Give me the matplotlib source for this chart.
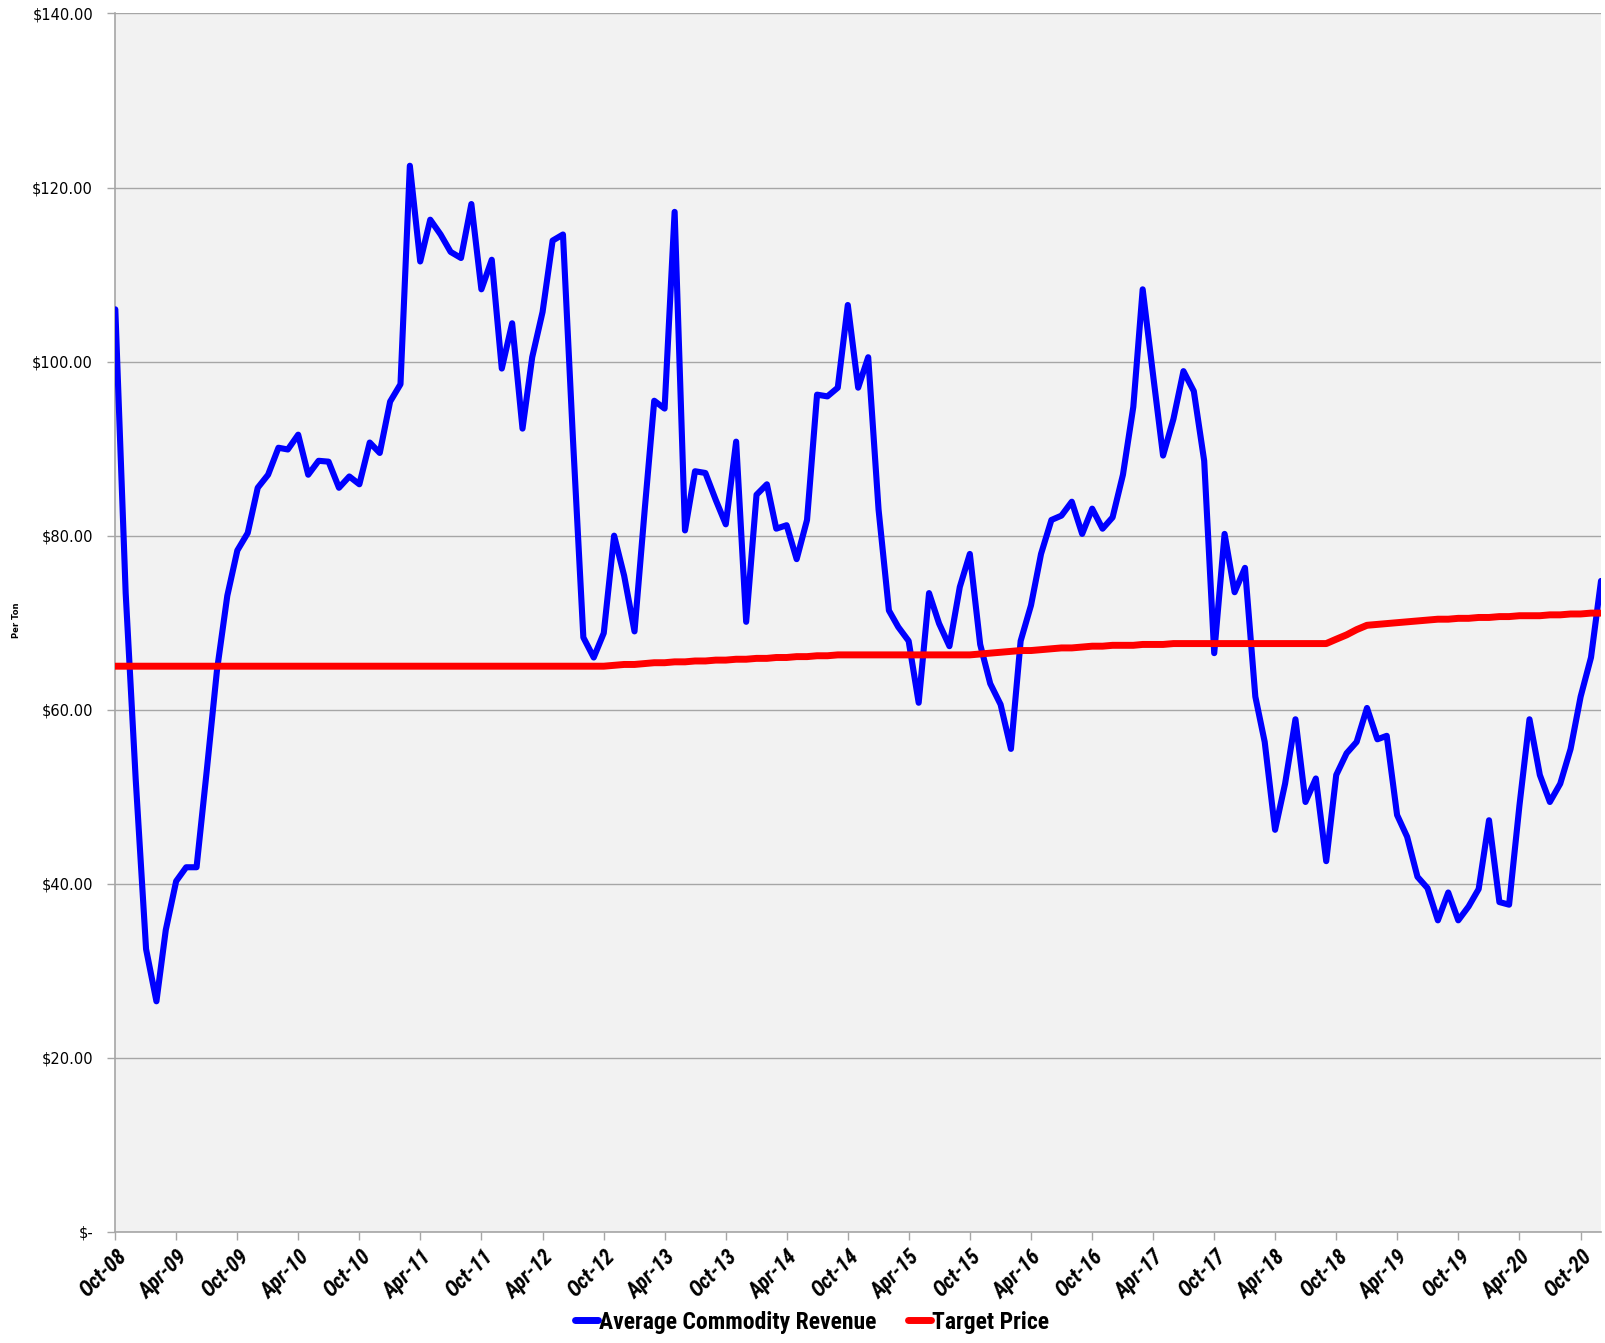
import pandas as pd
import matplotlib.pyplot as plt
import matplotlib.dates as mdates
from matplotlib.ticker import FixedLocator

revenue = [
    106.0, 73.4, 52.0, 32.5, 26.5, 34.7, 40.3, 41.9, 41.9, 52.8,
    64.5, 73.1, 78.3, 80.3, 85.5, 87.0, 90.1, 89.9, 91.6, 87.0,
    88.6, 88.5, 85.5, 86.8, 85.9, 90.7, 89.5, 95.4, 97.4, 122.5,
    111.5, 116.3, 114.6, 112.6, 111.9, 118.1, 108.3, 111.7, 99.2, 104.4,
    92.3, 100.5, 105.7, 113.9, 114.6, 91.0, 68.3, 66.0, 68.8, 80.0,
    75.4, 69.0, 83.2, 95.5, 94.6, 117.2, 80.6, 87.4, 87.2, 84.1,
    81.3, 90.8, 70.1, 84.7, 85.9, 80.8, 81.2, 77.3, 81.8, 96.2,
    96.0, 97.0, 106.5, 97.0, 100.5, 83.0, 71.4, 69.5, 67.9, 60.8,
    73.4, 69.9, 67.3, 74.1, 77.9, 67.5, 63.0, 60.6, 55.5, 67.9,
    72.0, 77.9, 81.8, 82.3, 83.9, 80.2, 83.1, 80.8, 82.1, 87.0,
    94.8, 108.3, 98.5, 89.2, 93.4, 98.9, 96.6, 88.6, 66.5, 80.2,
    73.5, 76.3, 61.5, 56.3, 46.2, 51.5, 58.9, 49.4, 52.1, 42.6,
    52.5, 55.0, 56.3, 60.2, 56.6, 57.0, 47.9, 45.4, 40.8, 39.5,
    35.8, 39.0, 35.8, 37.4, 39.4, 47.3, 37.9, 37.6, 49.0, 58.9,
    52.5, 49.4, 51.5, 55.5, 61.5, 66.0, 74.8,
]

target = [
    65.0, 65.0, 65.0, 65.0, 65.0, 65.0, 65.0, 65.0, 65.0, 65.0,
    65.0, 65.0, 65.0, 65.0, 65.0, 65.0, 65.0, 65.0, 65.0, 65.0,
    65.0, 65.0, 65.0, 65.0, 65.0, 65.0, 65.0, 65.0, 65.0, 65.0,
    65.0, 65.0, 65.0, 65.0, 65.0, 65.0, 65.0, 65.0, 65.0, 65.0,
    65.0, 65.0, 65.0, 65.0, 65.0, 65.0, 65.0, 65.0, 65.0, 65.1,
    65.2, 65.2, 65.3, 65.4, 65.4, 65.5, 65.5, 65.6, 65.6, 65.7,
    65.7, 65.8, 65.8, 65.9, 65.9, 66.0, 66.0, 66.1, 66.1, 66.2,
    66.2, 66.3, 66.3, 66.3, 66.3, 66.3, 66.3, 66.3, 66.3, 66.3,
    66.3, 66.3, 66.3, 66.3, 66.3, 66.4, 66.5, 66.6, 66.7, 66.8,
    66.8, 66.9, 67.0, 67.1, 67.1, 67.2, 67.3, 67.3, 67.4, 67.4,
    67.4, 67.5, 67.5, 67.5, 67.6, 67.6, 67.6, 67.6, 67.6, 67.6,
    67.6, 67.6, 67.6, 67.6, 67.6, 67.6, 67.6, 67.6, 67.6, 67.6,
    68.1, 68.6, 69.2, 69.7, 69.8, 69.9, 70.0, 70.1, 70.2, 70.3,
    70.4, 70.4, 70.5, 70.5, 70.6, 70.6, 70.7, 70.7, 70.8, 70.8,
    70.8, 70.9, 70.9, 71.0, 71.0, 71.1, 71.1,
]

months = pd.date_range('2008-10-01', periods=len(revenue), freq='MS')

y_ticks = [0, 20, 40, 60, 80, 100, 120, 140]
y_labels = ['$-', '$20.00', '$40.00', '$60.00', '$80.00', '$100.00', '$120.00', '$140.00']

narrow = ['Roboto Condensed', 'Liberation Sans', 'DejaVu Sans']

fig = plt.figure(figsize=(16.06, 13.43), dpi=100)
ax = fig.add_axes([0.0718, 0.0827, 0.9251, 0.9073])
ax.set_facecolor('#f2f2f2')

ax.plot(months, revenue, color='#0000ff', linewidth=4.4, solid_joinstyle='round',
        solid_capstyle='round', label='Average Commodity Revenue', zorder=3)
ax.plot(months, target, color='#ff0000', linewidth=5, solid_joinstyle='round',
        label='Target Price', zorder=3)

ax.set_xlim(months[0], months[-1])
ax.set_ylim(0, 140)
ax.set_yticks(y_ticks)
ax.set_yticklabels(y_labels, fontsize=10.5, family='DejaVu Sans')
ax.grid(axis='y', color='#a6a6a6', linewidth=1)
ax.set_axisbelow(True)

tick_dates = [d for d in months if d.month in (4, 10)]
ax.xaxis.set_major_locator(FixedLocator(mdates.date2num(tick_dates)))
ax.xaxis.set_major_formatter(mdates.DateFormatter('%b-%y'))
for lab in ax.get_xticklabels():
    lab.set_rotation(45)
    lab.set_ha('right')
    lab.set_rotation_mode('anchor')
    lab.set_fontsize(15.5)
    lab.set_fontweight('bold')
    lab.set_fontstyle('italic')
    lab.set_family(narrow)

ax.tick_params(axis='both', direction='out', length=6, color='#a6a6a6', width=1)
ax.tick_params(axis='x', pad=4)
ax.tick_params(axis='y', pad=10)
for s in ['top', 'right']:
    ax.spines[s].set_visible(False)
for s in ['left', 'bottom']:
    ax.spines[s].set_color('#a6a6a6')
    ax.spines[s].set_linewidth(1.2)

fig.text(0.010, 0.538, 'Per Ton', rotation=90, fontsize=6, fontweight='bold',
         ha='center', va='center')

leg = fig.legend(loc='center', bbox_to_anchor=(0.5056, 0.0155), ncol=2, frameon=False,
                 handlelength=1.0, handletextpad=0.05, columnspacing=1.3,
                 prop={'family': narrow, 'weight': 'bold', 'size': 17})
for line in leg.get_lines():
    line.set_linewidth(5)
    line.set_solid_capstyle('round')

fig.savefig('out.png', dpi=100)
plt.close(fig)
